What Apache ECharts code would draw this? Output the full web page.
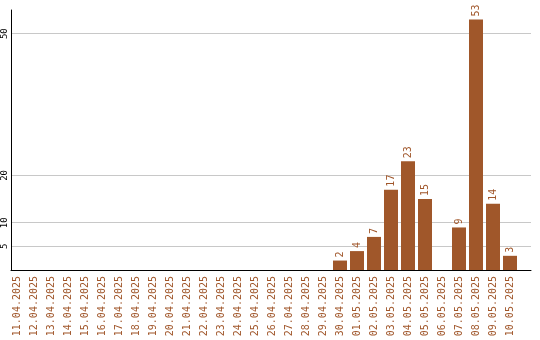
<!DOCTYPE html>
<html>
<head>
<meta charset="utf-8">
<script src="https://cdn.jsdelivr.net/npm/echarts@6/dist/echarts.min.js"></script>
<style>html,body{margin:0;padding:0;background:#fff}#c{width:540px;height:340px}</style>
</head>
<body>
<div id="c"></div>
<script>
const categories = ["11.04.2025","12.04.2025","13.04.2025","14.04.2025","15.04.2025","16.04.2025","17.04.2025","18.04.2025","19.04.2025","20.04.2025","21.04.2025","22.04.2025","23.04.2025","24.04.2025","25.04.2025","26.04.2025","27.04.2025","28.04.2025","29.04.2025","30.04.2025","01.05.2025","02.05.2025","03.05.2025","04.05.2025","05.05.2025","06.05.2025","07.05.2025","08.05.2025","09.05.2025","10.05.2025"];
const values = [0,0,0,0,0,0,0,0,0,0,0,0,0,0,0,0,0,0,0,2,4,7,17,23,15,0,9,53,14,3];
const yTicks = [5,10,20,50];
const yMax = 55;

const BROWN = '#a0562a';
const FONT = '"DejaVu Sans Mono", monospace';
const chart = echarts.init(document.getElementById('c'), null, {renderer:'canvas'});
chart.setOption({
  animation: false,
  grid: [
    {left: 10, right: 9, top: 10, bottom: 70},
    {left: 8.5, width: 510, top: 10, bottom: 70}
  ],
  xAxis: [
    {gridIndex: 0, type: 'category', data: categories,
     axisLine: {show: true, lineStyle: {color: '#000', width: 1}},
     axisTick: {show: false}, axisLabel: {show: false}, splitLine: {show: false}},
    {gridIndex: 1, type: 'category', data: categories,
     axisLine: {show: false}, axisTick: {show: false},
     axisLabel: {interval: 0, rotate: 90, margin: 6, color: BROWN, fontFamily: FONT, fontSize: 10}}
  ],
  yAxis: [
    {gridIndex: 0, type: 'value', min: 0, max: yMax,
     axisLine: {show: true, lineStyle: {color: '#000', width: 1}},
     axisTick: {show: false, customValues: yTicks},
     axisLabel: {customValues: yTicks, rotate: 90, margin: 2, color: '#000', fontFamily: FONT, fontSize: 9},
     splitLine: {show: true, lineStyle: {color: '#c8c8c8', width: 1}}},
    {gridIndex: 1, type: 'value', min: 0, max: yMax, show: false, splitLine: {show: false}}
  ],
  series: [{
    type: 'bar', xAxisIndex: 1, yAxisIndex: 1, data: values,
    barWidth: 14,
    itemStyle: {color: '#a0572a'},
    label: {show: true, position: 'top', rotate: 90, align: 'left', verticalAlign: 'middle', distance: 3,
      color: BROWN, fontFamily: FONT, fontSize: 10,
      formatter: p => p.value ? String(p.value) : ''}
  }]
});
</script>
</body>
</html>
